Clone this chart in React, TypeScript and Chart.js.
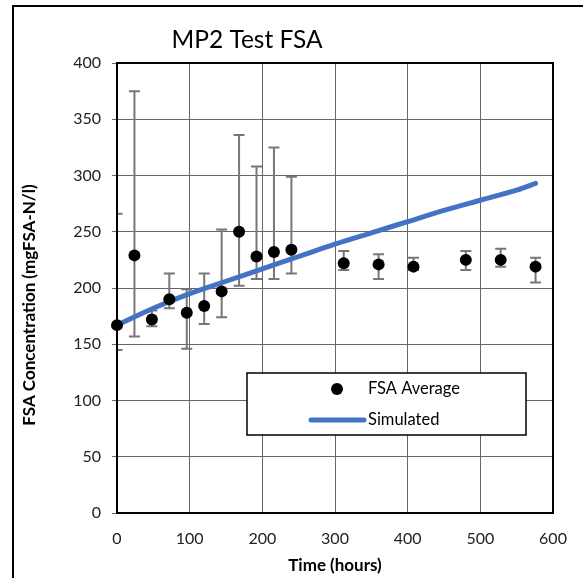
import React, { useEffect, useRef } from 'react';
import { Chart, registerables } from 'chart.js';

Chart.register(...registerables);

// Sampling times (hours) and measured FSA concentrations with their spread
const sampleHours = [0, 24, 48, 72, 96, 120, 144, 168, 192, 216, 240, 312, 360, 408, 480, 528, 576];
const fsaAverage = [167, 229, 172, 190, 178, 184, 197, 250, 228, 232, 234, 222, 221, 219, 225, 225, 219];
const fsaLow = [145, 157, 166, 182, 146, 168, 174, 202, 208, 208, 213, 216, 208, 216, 216, 219, 205];
const fsaHigh = [266, 375, 180, 213, 199, 213, 252, 336, 308, 325, 299, 233, 230, 227, 233, 235, 227];

// Model output
const simHours = [0, 50, 100, 150, 200, 250, 300, 350, 400, 450, 500, 550, 576];
const simulated = [167, 182, 195, 206, 217, 228, 239, 249, 259, 269, 278, 287, 293];

const titleText = 'MP2 Test FSA';
const xTitle = 'Time (hours)';
const yTitle = 'FSA Concentration (mgFSA-N/l)';
const seriesNames = ['FSA Average', 'Simulated'];

const FONT = 'Lato, "Open Sans", "Liberation Sans", sans-serif';
const BLUE = '#4472C4';
const BAR_GREY = '#777777';

const decorPlugin = {
  id: 'decor',
  beforeDatasetsDraw(chart: any) {
    const { ctx, chartArea: a, scales } = chart;
    const xs = scales.x;
    const ys = scales.y;
    // error bars
    ctx.save();
    ctx.beginPath();
    ctx.rect(a.left, a.top, a.right - a.left, a.bottom - a.top);
    ctx.clip();
    ctx.strokeStyle = BAR_GREY;
    ctx.lineWidth = 2;
    sampleHours.forEach((h, i) => {
      const px = xs.getPixelForValue(h);
      const lo = ys.getPixelForValue(fsaLow[i]);
      const hi = ys.getPixelForValue(fsaHigh[i]);
      ctx.beginPath();
      ctx.moveTo(px, lo);
      ctx.lineTo(px, hi);
      ctx.moveTo(px - 5.5, lo);
      ctx.lineTo(px + 5.5, lo);
      ctx.moveTo(px - 5.5, hi);
      ctx.lineTo(px + 5.5, hi);
      ctx.stroke();
    });
    ctx.restore();
    // plot frame
    ctx.save();
    ctx.strokeStyle = '#000';
    ctx.lineWidth = 2;
    ctx.strokeRect(a.left, a.top, a.right - a.left, a.bottom - a.top);
    ctx.restore();
  },
  afterDraw(chart: any) {
    const { ctx, chartArea: a } = chart;
    ctx.save();
    // outer frame
    ctx.strokeStyle = '#000';
    ctx.lineWidth = 2;
    ctx.strokeRect(13, 6, 800, 800);

    // title
    ctx.fillStyle = '#000';
    ctx.font = `24.5px ${FONT}`;
    ctx.textAlign = 'center';
    ctx.textBaseline = 'middle';
    ctx.fillText(titleText, 247, 40);

    // axis titles
    ctx.font = `bold 17px ${FONT}`;
    ctx.fillText(xTitle, (a.left + a.right) / 2, 566);
    ctx.save();
    ctx.translate(30, 305);
    ctx.rotate(-Math.PI / 2);
    ctx.fillText(yTitle, 0, 0);
    ctx.restore();

    // legend
    const lx = a.left + 130;
    const ly = a.top + 310;
    const lw = 279;
    const lh = 62;
    ctx.fillStyle = '#fff';
    ctx.fillRect(lx, ly, lw, lh);
    ctx.lineWidth = 1.5;
    ctx.strokeStyle = '#000';
    ctx.strokeRect(lx, ly, lw, lh);

    ctx.fillStyle = '#000';
    ctx.beginPath();
    ctx.arc(lx + 90, ly + 16, 6, 0, Math.PI * 2);
    ctx.fill();

    ctx.strokeStyle = BLUE;
    ctx.lineWidth = 5;
    ctx.lineCap = 'round';
    ctx.beginPath();
    ctx.moveTo(lx + 64, ly + 47);
    ctx.lineTo(lx + 117, ly + 47);
    ctx.stroke();

    ctx.fillStyle = '#000';
    ctx.font = `16.5px ${FONT}`;
    ctx.textAlign = 'left';
    ctx.fillText(seriesNames[0], lx + 121, ly + 16);
    ctx.fillText(seriesNames[1], lx + 121, ly + 47);
    ctx.restore();
  },
};

export default function App() {
  const canvasRef = useRef<HTMLCanvasElement | null>(null);

  useEffect(() => {
    const canvas = canvasRef.current;
    if (!canvas) return;
    const chart = new Chart(canvas, {
      type: 'scatter',
      data: {
        datasets: [
          {
            label: seriesNames[0],
            data: sampleHours.map((x, i) => ({ x, y: fsaAverage[i] })),
            pointRadius: 6,
            pointBackgroundColor: '#000',
            pointBorderColor: '#000',
            pointBorderWidth: 0,
            showLine: false,
            order: 0,
            clip: false as any,
          },
          {
            label: seriesNames[1],
            type: 'line' as any,
            data: simHours.map((x, i) => ({ x, y: simulated[i] })),
            borderColor: BLUE,
            borderWidth: 5,
            pointRadius: 0,
            showLine: true,
            fill: false,
            tension: 0.3,
            borderCapStyle: 'round',
            order: 1,
          },
        ],
      },
      options: {
        animation: false,
        responsive: false,
        layout: { padding: { top: 63, right: 30, left: 0, bottom: 0 } },
        plugins: {
          legend: { display: false },
          tooltip: { enabled: false },
          title: { display: false },
        },
        scales: {
          x: {
            type: 'linear',
            min: 0,
            max: 600,
            ticks: { stepSize: 100, color: '#222', font: { family: FONT, size: 16 }, padding: 16, maxRotation: 0 },
            grid: { color: '#666', lineWidth: 1, drawTicks: false },
            border: { display: false },
            afterFit: (s: any) => {
              s.height = 65;
            },
          },
          y: {
            type: 'linear',
            min: 0,
            max: 400,
            ticks: { stepSize: 50, color: '#222', font: { family: FONT, size: 16 }, padding: 11 },
            grid: { color: '#666', lineWidth: 1, drawTicks: true, tickLength: 5 },
            border: { display: false },
            afterFit: (s: any) => {
              s.width = 117;
            },
          },
        },
      },
      plugins: [decorPlugin],
    });
    return () => chart.destroy();
  }, []);

  return (
    <div style={{ position: 'fixed', left: 0, top: 0, width: 583, height: 578, background: '#fff' }}>
      <canvas ref={canvasRef} width={583} height={578} style={{ display: 'block' }} />
    </div>
  );
}
